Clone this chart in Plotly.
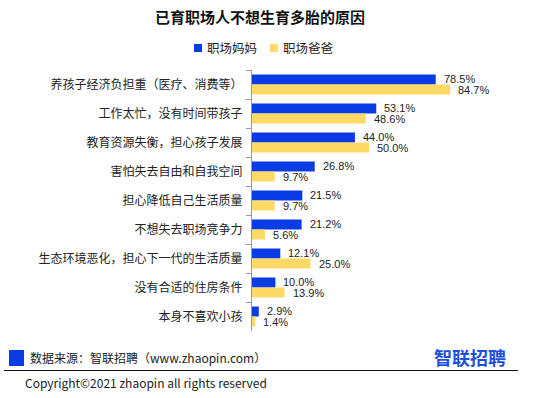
import plotly.graph_objects as go

categories = [
    "养孩子经济负担重（医疗、消费等）",
    "工作太忙，没有时间带孩子",
    "教育资源失衡，担心孩子发展",
    "害怕失去自由和自我空间",
    "担心降低自己生活质量",
    "不想失去职场竞争力",
    "生态环境恶化，担心下一代的生活质量",
    "没有合适的住房条件",
    "本身不喜欢小孩",
]
mom = [78.5, 53.1, 44.0, 26.8, 21.5, 21.2, 12.1, 10.0, 2.9]
dad = [84.7, 48.6, 50.0, 9.7, 9.7, 5.6, 25.0, 13.9, 1.4]
series_names = ["职场妈妈", "职场爸爸"]

W, H = 542, 398
L, R, T, B = 252, 56, 70, 67
PW = W - L - R
PH = H - T - B

def px(x):
    return (x - L) / PW

def py(y):
    return (H - B - y) / PH

FONT = "Noto Sans CJK SC, Microsoft YaHei, sans-serif"
NUMFONT = "Liberation Sans, Arial, sans-serif"
BLUE = "#0A3CE6"
YELLOW = "#FFD966"

fig = go.Figure()
for vals, name, col in [(mom, series_names[0], BLUE), (dad, series_names[1], YELLOW)]:
    fig.add_trace(go.Bar(
        y=categories, x=vals, name=name, orientation="h",
        marker=dict(color=col, line=dict(width=0)),
        showlegend=False, hoverinfo="skip",
    ))

# value labels (from data), mom above, dad below within each category
for vals, ys in [(mom, 5.5), (dad, -5.5)]:
    for cat, v in zip(categories, vals):
        fig.add_annotation(x=v, y=cat, xref="x", yref="y", text=f"{v:.1f}%",
                           xanchor="left", yanchor="middle", xshift=6, yshift=ys,
                           showarrow=False, font=dict(family=NUMFONT, size=11, color="#222"))

fig.update_layout(
    width=W, height=H,
    margin=dict(l=L, r=R, t=T, b=B, autoexpand=False),
    paper_bgcolor="white", plot_bgcolor="white",
    font=dict(family=FONT, size=11, color="#222"),
    barmode="group", bargap=0.31, bargroupgap=0,
    title=dict(text="<b>已育职场人不想生育多胎的原因</b>", xref="container",
               x=260 / W, xanchor="center",
               y=1 - 18 / H, yanchor="middle", font=dict(size=15, color="#111")),
    showlegend=False,
    xaxis=dict(range=[0, 100], visible=False, showgrid=False, zeroline=False),
    yaxis=dict(type="category", autorange="reversed", showline=True,
               linecolor="#999", linewidth=1, ticks="outside", ticklen=5,
               tickcolor="#999", tickson="boundaries", showgrid=False,
               tickfont=dict(size=12, color="#222"), ticklabelstandoff=6),
)

# Legend (manual)
for sx, tx, col, name in [(194, 205, BLUE, series_names[0]), (270, 281, YELLOW, series_names[1])]:
    fig.add_shape(type="rect", xref="paper", yref="paper",
                  x0=px(sx), x1=px(sx + 8), y0=py(52), y1=py(44),
                  fillcolor=col, line=dict(width=0))
    fig.add_annotation(xref="paper", yref="paper", x=px(tx), y=py(48),
                       xanchor="left", yanchor="middle", showarrow=False,
                       text=name, font=dict(size=12.5, color="#222"))

# Footer
fig.add_shape(type="rect", xref="paper", yref="paper",
              x0=px(9), x1=px(24), y0=py(366), y1=py(350),
              fillcolor=BLUE, line=dict(width=0))
fig.add_shape(type="line", xref="paper", yref="paper",
              x0=px(4), x1=px(518), y0=py(370.5), y1=py(370.5),
              line=dict(color="#111", width=1))
fig.add_annotation(xref="paper", yref="paper", x=px(28), y=py(357),
                   xanchor="left", yanchor="middle", showarrow=False,
                   text="数据来源：智联招聘（www.zhaopin.com）",
                   font=dict(size=12, color="#222"))
fig.add_annotation(xref="paper", yref="paper", x=px(508), y=py(357),
                   xanchor="right", yanchor="middle", showarrow=False,
                   text="<b>智联招聘</b>",
                   font=dict(size=18, color="#1E50D8"))
fig.add_annotation(xref="paper", yref="paper", x=px(23), y=py(382),
                   xanchor="left", yanchor="middle", showarrow=False,
                   text="Copyright©2021 zhaopin all rights reserved",
                   font=dict(size=12, color="#222"))

fig.write_html("out.html", config={"displayModeBar": False},
               post_script="document.body.style.margin='0';document.body.style.overflow='hidden';")
